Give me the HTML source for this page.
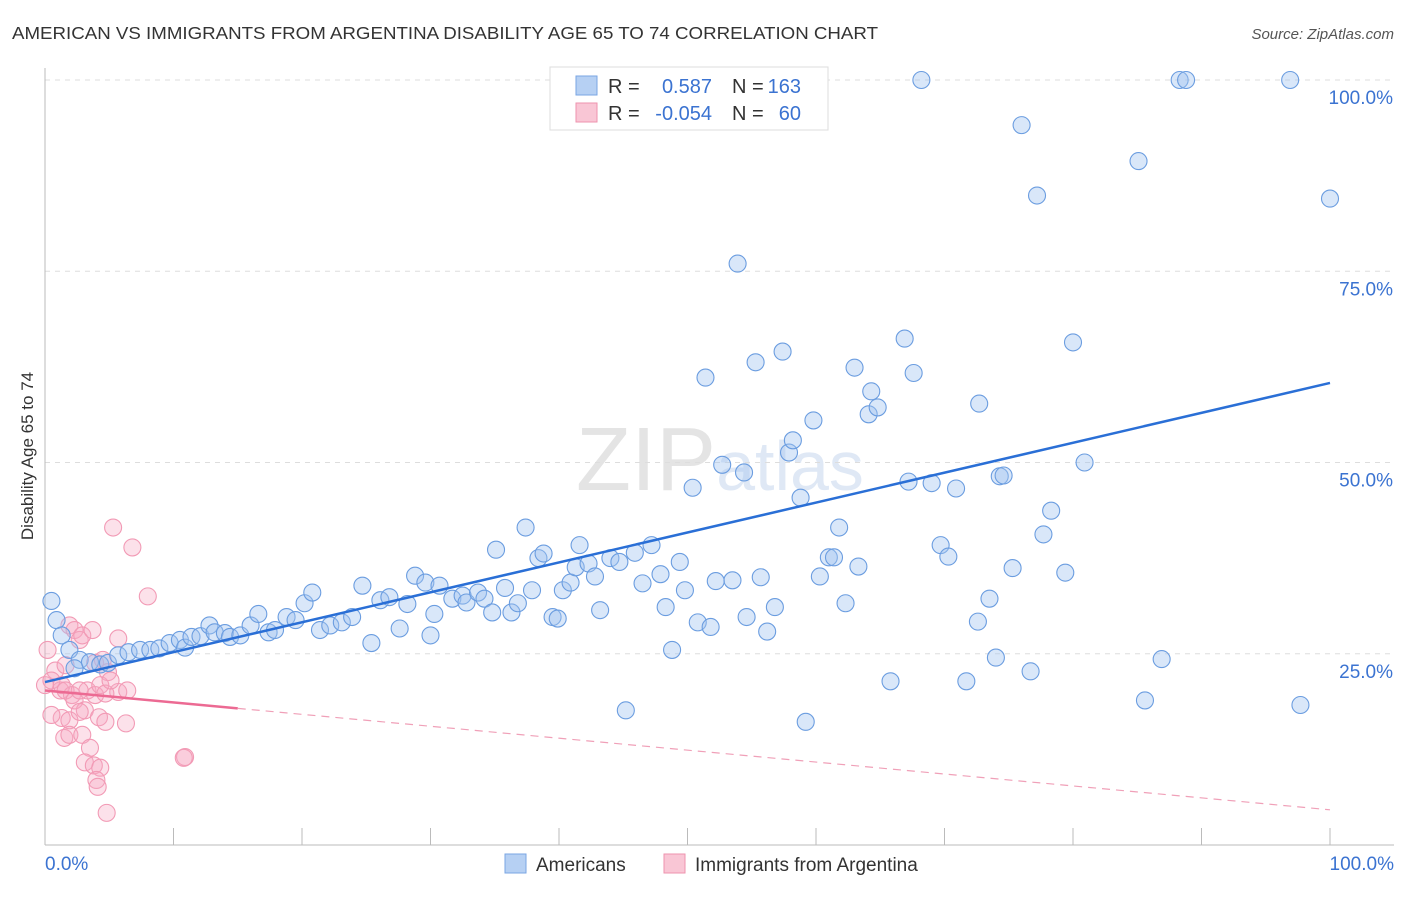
<!DOCTYPE html>
<html><head><meta charset="utf-8"><style>
body{margin:0;background:#fff;font-family:"Liberation Sans",sans-serif;}
svg text{font-family:"Liberation Sans",sans-serif;}
</style></head><body>
<svg id="chart" width="1406" height="892" xmlns="http://www.w3.org/2000/svg">
<text x="12" y="39" font-size="17.5" fill="#333" textLength="866" lengthAdjust="spacingAndGlyphs">AMERICAN VS IMMIGRANTS FROM ARGENTINA DISABILITY AGE 65 TO 74 CORRELATION CHART</text>
<text x="1394" y="39" font-size="15" fill="#555" font-style="italic" text-anchor="end">Source: ZipAtlas.com</text>
<text transform="translate(33,456) rotate(-90)" font-size="17" fill="#333" text-anchor="middle">Disability Age 65 to 74</text>
<text x="720" y="490" font-size="90" fill="#e4e4e4" text-anchor="middle" font-family="Liberation Serif">ZIP<tspan fill="#dfe8f5" font-size="70" font-family="Liberation Sans">atlas</tspan></text>
<g id="grid"></g><g id="axes"></g><g id="pink"></g><g id="blue"></g><g id="lines"></g>
<g>
<rect x="550" y="67" width="278" height="63" fill="#fff" stroke="#ddd"/>
<rect x="576" y="76" width="21" height="19" fill="#b6d0f3" stroke="#7aa6e3"/>
<rect x="576" y="103" width="21" height="19" fill="#f9c6d5" stroke="#ee93ae"/>
<text x="608" y="93" font-size="20" fill="#333">R =</text><text x="712" y="93" font-size="20" fill="#3b73d1" text-anchor="end">0.587</text>
<text x="732" y="93" font-size="20" fill="#333">N =</text><text x="801" y="93" font-size="20" fill="#3b73d1" text-anchor="end">163</text>
<text x="608" y="120" font-size="20" fill="#333">R =</text><text x="712" y="120" font-size="20" fill="#3b73d1" text-anchor="end">-0.054</text>
<text x="732" y="120" font-size="20" fill="#333">N =</text><text x="801" y="120" font-size="20" fill="#3b73d1" text-anchor="end">60</text>
</g>
<g>
<rect x="505" y="854" width="21" height="19" fill="#b6d0f3" stroke="#7aa6e3"/>
<text x="536" y="871" font-size="19" fill="#333">Americans</text>
<rect x="664" y="854" width="21" height="19" fill="#f9c6d5" stroke="#ee93ae"/>
<text x="695" y="871" font-size="19" fill="#333">Immigrants from Argentina</text>
</g>
</svg>
<script>
const yTicks=[25,50,75,100];
const yTickLabels=["25.0%","50.0%","75.0%","100.0%"];
const xTicks=[0,10,20,30,40,50,60,70,80,90,100];
const blueX=[0.5,0.9,1.3,1.9,2.7,2.3,3.5,4.3,4.9,5.7,6.5,7.4,8.2,8.9,9.7,10.5,10.9,11.4,12.1,12.8,13.2,14.0,14.4,15.2,16.0,16.6,17.4,17.9,18.8,19.5,20.2,20.8,21.4,22.2,23.1,23.9,24.7,25.4,26.1,26.8,27.6,28.2,28.8,29.6,30.0,30.3,30.7,31.7,32.5,32.8,33.7,34.2,34.8,35.8,36.3,36.8,37.4,37.9,35.1,38.4,38.8,39.5,39.9,40.3,40.9,41.6,41.3,42.3,42.8,43.2,44.0,44.7,45.2,45.9,46.5,47.2,47.9,48.3,48.8,49.4,49.8,50.4,50.8,51.4,51.8,52.2,52.7,53.5,53.9,54.4,54.6,55.3,55.7,56.2,56.8,57.4,57.9,58.2,58.8,59.2,59.8,60.3,61.0,61.4,61.8,62.3,63.0,63.3,64.1,64.3,64.8,65.8,66.9,67.2,67.6,68.2,69.0,69.7,70.3,70.9,71.7,72.6,72.7,73.5,74.0,74.3,74.6,75.3,76.0,76.7,77.2,77.7,78.3,79.4,80.0,80.9,85.1,85.6,86.9,88.3,88.8,96.9,97.7,100];
const blueY=[31.9,29.4,27.4,25.5,24.2,23.1,23.9,23.6,23.8,24.8,25.2,25.5,25.5,25.7,26.4,26.8,25.8,27.2,27.3,28.7,27.8,27.7,27.2,27.4,28.7,30.2,27.8,28.1,29.8,29.4,31.6,33.0,28.1,28.7,29.1,29.8,33.9,26.4,32.0,32.4,28.3,31.5,35.2,34.3,27.4,30.2,33.9,32.2,32.6,31.7,33.0,32.2,30.4,33.6,30.4,31.6,41.5,33.3,38.6,37.5,38.1,29.8,29.6,33.3,34.3,39.2,36.3,36.8,35.1,30.7,37.5,37.0,17.6,38.2,34.2,39.2,35.4,31.1,25.5,37.0,33.3,46.7,29.1,61.1,28.5,34.5,49.7,34.6,76.0,48.7,29.8,63.1,35.0,27.9,31.1,64.5,51.3,52.9,45.4,16.1,55.5,35.1,37.6,37.6,41.5,31.6,62.4,36.4,56.3,59.3,57.2,21.4,66.2,47.5,61.7,100,47.3,39.2,37.7,46.6,21.4,29.2,57.7,32.2,24.5,48.2,48.3,36.2,94.1,22.7,84.9,40.6,43.7,35.6,65.7,50.0,89.4,18.9,24.3,100,100,100,18.3,84.5];
const pinkX=[5.3,6.8,8.0,0.2,0.8,1.2,0,0.5,1.3,1.9,2.3,2.7,1.6,2.9,3.7,3.9,4.5,5.7,4.9,5.7,6.4,3.3,3.9,2.1,1.6,4.3,1.3,2.3,3.1,1.9,2.7,4.7,4.2,4.7,6.3,1.5,1.9,2.9,3.5,3.1,3.8,4.3,4.0,4.1,4.8,10.9,10.8,5.1,2.7,0.5];
const pinkY=[41.5,38.9,32.5,25.5,22.8,20.2,20.9,21.5,20.9,28.7,28.1,26.8,23.5,27.4,28.1,23.8,24.2,27.0,22.6,20.0,20.2,20.2,19.6,19.6,20.2,20.9,16.6,18.9,17.6,16.3,17.4,19.8,16.7,16.1,15.9,14.0,14.4,14.4,12.7,10.8,10.4,10.1,8.5,7.6,4.2,11.5,11.4,21.5,20.2,17.0];
const blueTrend=[21.3,60.4];
const pinkTrend=[20.2,4.6];
const pinkSolidEnd=15;
const NS="http://www.w3.org/2000/svg";
const X0=45,X1=1330,Y0=845,Y100=80;
const sx=v=>X0+(X1-X0)*v/100;
const sy=v=>Y0-(Y0-Y100)*v/100;
function mk(tag,attrs,parent){const e=document.createElementNS(NS,tag);for(const k in attrs)e.setAttribute(k,attrs[k]);document.getElementById(parent).appendChild(e);return e;}
yTicks.forEach((t,i)=>{
 const l=mk('line',{x1:X0,x2:1394,y1:sy(t),y2:sy(t),stroke:'#ddd','stroke-dasharray':'5,5'},'grid');
 
 
 const tx=mk('text',{x:1393,y:sy(t)+24,'font-size':19,fill:'#3b73d1','text-anchor':'end'},'grid');
 tx.textContent=yTickLabels[i];
 
 
});
const ax=mk('line',{x1:X0,x2:1394,y1:Y0,y2:Y0,stroke:'#bbb'},'axes');


const ay=mk('line',{x1:X0,x2:X0,y1:68,y2:Y0,stroke:'#bbb'},'axes');


xTicks.forEach(t=>{
 const l=mk('line',{x1:sx(t),x2:sx(t),y1:828,y2:Y0,stroke:'#bbb'},'axes');
 
 
});
const xl0=mk('text',{x:45,y:870,'font-size':19,fill:'#3b73d1'},'axes');xl0.textContent='0.0%';


const xl1=mk('text',{x:1394,y:870,'font-size':19,fill:'#3b73d1','text-anchor':'end'},'axes');xl1.textContent='100.0%';


pinkX.forEach((v,i)=>{
 const c=mk('circle',{cx:sx(v),cy:sy(pinkY[i]),r:8.5,fill:'rgba(245,170,196,0.35)',stroke:'#f29ab5','stroke-width':1.1},'pink');
 
 
});
blueX.forEach((v,i)=>{
 const c=mk('circle',{cx:sx(v),cy:sy(blueY[i]),r:8.5,fill:'rgba(160,196,240,0.4)',stroke:'#6b9de0','stroke-width':1.1},'blue');
 
 
});
const bl=mk('line',{x1:sx(0),y1:sy(blueTrend[0]),x2:sx(100),y2:sy(blueTrend[1]),stroke:'#2a6fd6','stroke-width':2.5},'lines');


const pAt=x=>pinkTrend[0]+(pinkTrend[1]-pinkTrend[0])*x/100;
const pl=mk('line',{x1:sx(0),y1:sy(pAt(0)),x2:sx(pinkSolidEnd),y2:sy(pAt(pinkSolidEnd)),stroke:'#ec6a93','stroke-width':2.5},'lines');


const pd=mk('line',{x1:sx(pinkSolidEnd),y1:sy(pAt(pinkSolidEnd)),x2:sx(100),y2:sy(pAt(100)),stroke:'#f0a0b8','stroke-width':1.2,'stroke-dasharray':'8,6'},'lines');


</script>
</body></html>
